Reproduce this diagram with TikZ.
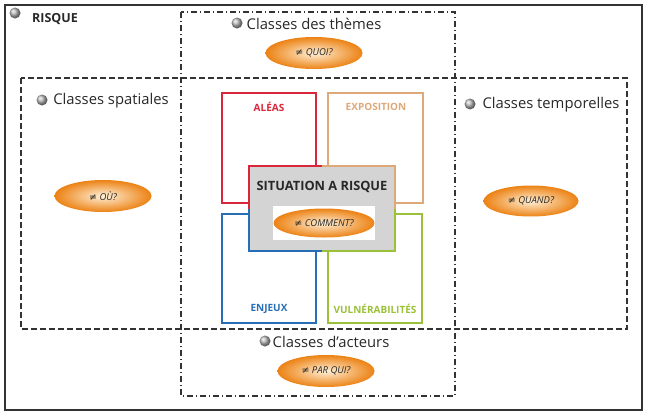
\documentclass[tikz,border=0pt]{standalone}
\usepackage{fontspec}
\setmainfont{Open Sans}
\newfontfamily\symfont{DejaVu Sans}
\usetikzlibrary{shapes.geometric}
\definecolor{aleared}{RGB}{218,38,58}
\definecolor{expotan}{RGB}{222,168,120}
\definecolor{enjeublue}{RGB}{40,110,180}
\definecolor{vulngreen}{RGB}{155,192,58}
\definecolor{situgray}{RGB}{212,212,212}
\definecolor{qorange}{RGB}{236,130,20}
\definecolor{qlight}{RGB}{255,240,215}
\definecolor{textdark}{RGB}{40,40,40}
\newcommand\pasegal{{\symfont\upshape ≠}}
\tikzset{
  question/.style={ellipse, minimum width=97pt, minimum height=32pt, inner sep=0pt,
    shading=radial, inner color=qlight, outer color=qorange,
    font=\itshape\fontsize{9.5}{11}\selectfont, text=textdark},
  bullet/.style={circle, minimum size=11pt, inner sep=0pt, shading=ball, ball color=gray!55},
  classlabel/.style={font=\fontsize{14.8}{17}\selectfont, inner sep=0pt, text=textdark},
  factor/.style={font=\bfseries\fontsize{10}{12}\selectfont, inner sep=0pt},
  factorbox/.style={line width=1.5pt}
}
\begin{document}
\begin{tikzpicture}[x=1pt,y=-1pt]
\useasboundingbox (0,0) rectangle (647,415);
% frame of the whole risk
\draw[line width=2.8pt, black!80] (5,5) rectangle (642,410);
\node[bullet] (bulrisque) at (15,13) {};
\node[font=\bfseries\fontsize{12.5}{14}\selectfont, inner sep=0pt, text=textdark] (risque) at (55,19) {RISQUE};
% classes boxes
\draw[dash pattern=on 6pt off 3pt on 1pt off 3pt, line width=1.1pt, black!80] (181,12) rectangle (455,396);
\draw[dash pattern=on 6pt off 3pt, line width=1.1pt, black!80] (21,78) rectangle (627,329);
\node[bullet] (bulthemes) at (237,23) {};
\node[classlabel] (themes) at (314,24) {Classes des thèmes};
\node[question] (quoi) at (314,53) {\pasegal\ QUOI?};
\node[bullet] (bulspat) at (42,100) {};
\node[classlabel] (spatiales) at (111,101) {Classes spatiales};
\node[question] (ou) at (103,196) {\pasegal\ OÙ?};
\node[bullet] (bultemp) at (470,104) {};
\node[classlabel] (temporelles) at (551,105) {Classes temporelles};
\node[question, minimum width=95pt, minimum height=31pt] (quand) at (531,201) {\pasegal\ QUAND?};
\node[bullet] (bulact) at (265,341) {};
\node[classlabel] (acteurs) at (331,342) {Classes d'acteurs};
\node[question] (parqui) at (326,371) {\pasegal\ PAR QUI?};
% the four components
\draw[factorbox, aleared] (222,93) rectangle (316,203);
\draw[factorbox, expotan] (328,93) rectangle (423,203);
\draw[factorbox, enjeublue] (222,214) rectangle (316,323);
\draw[factorbox, vulngreen] (328,214) rectangle (422,323);
\node[factor, text=aleared] (aleas) at (269,107) {ALÉAS};
\node[factor, text=expotan] (exposition) at (376,107) {EXPOSITION};
\node[factor, text=enjeublue] (enjeux) at (269,309) {ENJEUX};
\node[factor, text=vulngreen] (vulnerab) at (375,309) {VULNÉRABILITÉS};
% situation a risque
\fill[situgray] (249,166) rectangle (395,251);
\draw[factorbox, aleared] (249,208.5) |- (322,166);
\draw[factorbox, expotan] (322,166) -| (395,208.5);
\draw[factorbox, enjeublue] (249,208.5) |- (322,251);
\draw[factorbox, vulngreen] (322,251) -| (395,208.5);
\node[font=\bfseries\fontsize{12.8}{15}\selectfont, inner sep=0pt, text=textdark] (situation) at (322,187) {SITUATION A RISQUE};
\fill[white] (273,206) rectangle (375,240);
\node[question, minimum width=101pt, minimum height=29pt] (comment) at (324,223) {\pasegal\ COMMENT?};
\end{tikzpicture}
\end{document}
